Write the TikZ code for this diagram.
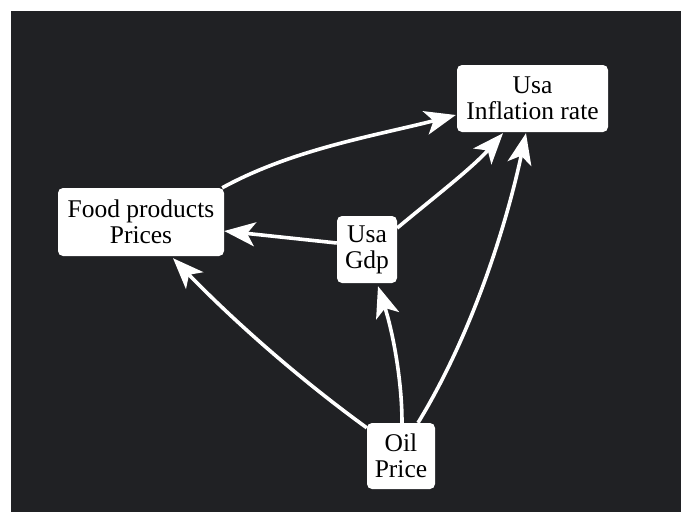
\documentclass[tikz,border=0pt]{standalone}
\usepackage{fontspec}
\setmainfont{Liberation Serif}
\usetikzlibrary{arrows.meta,calc}
\definecolor{bgdark}{RGB}{32,33,36}
\pgfdeclarelayer{back}
\pgfdeclarelayer{edgelayer}
\pgfsetlayers{back,edgelayer,main}
\begin{document}
\begin{tikzpicture}[x=1pt,y=-1pt,
  box/.style={fill=white, rounded corners=5pt, inner sep=0pt, align=center, text=black,
    font=\fontsize{25.5}{26}\selectfont},
  link/.style={draw=white, line width=3.6pt, -{Stealth[length=31pt,width=24pt,inset=8pt]}}]
\useasboundingbox (0,0) rectangle (681,512);
\begin{pgfonlayer}{back}
\fill[white] (0,0) rectangle (681,512);
\fill[bgdark] (11,11) rectangle (681,512);
\end{pgfonlayer}
\node[box, minimum width=151pt, minimum height=67pt] (infl) at (532.5,98.5) {Usa\\Inflation rate};
\node[box, minimum width=166pt, minimum height=68pt] (food) at (141,222) {Food products\\Prices};
\node[box, minimum width=60pt, minimum height=67pt] (gdp) at (367,249.5) {Usa\\Gdp};
\node[box, minimum width=68pt, minimum height=66pt] (oil) at (401,456) {Oil\\Price};
\begin{pgfonlayer}{edgelayer}
\draw[link] ($(food.north east)+(-2,0)$) .. controls +(71,-39) and +(-77,20) .. ($(infl.west)+(-1,16.5)$);
\draw[link] ($(gdp.west)+(0,-6.5)$) -- ($(food.east)+(0,9)$);
\draw[link] ($(gdp.east)+(0,-21.5)$) .. controls +(36,-30) and +(-31,35) .. ($(infl.south)+(-29.5,1)$);
\draw[link] ($(oil.north west)+(0,5)$) .. controls +(-69,-50) and +(59,61) .. ($(food.south)+(32,2)$);
\draw[link] ($(oil.north)+(1,0)$) .. controls +(0,-45) and +(14,43) .. ($(gdp.south)+(11,3)$);
\draw[link] ($(oil.north)+(17,0)$) .. controls +(52,-85) and +(-21,98) .. ($(infl.south)+(-6.5,1)$);
\end{pgfonlayer}
\end{tikzpicture}
\end{document}
